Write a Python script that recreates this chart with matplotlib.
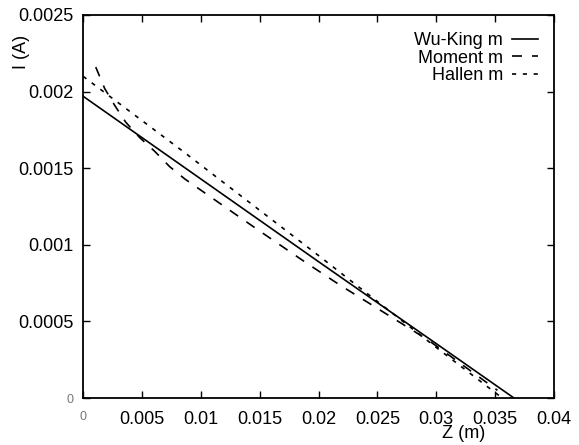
import matplotlib.pyplot as plt

plt.rcParams['font.family'] = ['Liberation Sans', 'DejaVu Sans']

# data
z_wuking = [0.0, 0.01, 0.02, 0.03, 0.0366]
i_wuking = [0.00197, 0.00143, 0.00089, 0.000355, 0.0]

z_moment = [0.00108, 0.00184, 0.00269, 0.00363, 0.00481, 0.00609, 0.00736, 0.00864,
            0.012, 0.015, 0.019, 0.0218, 0.025, 0.0293, 0.0352]
i_moment = [0.00216, 0.00202, 0.00191, 0.0018, 0.0017, 0.00161, 0.00151, 0.00143,
            0.00125, 0.00109, 0.00088, 0.000738, 0.000585, 0.000379, 0.00005]

z_hallen = [0.0, 0.00866, 0.02, 0.03, 0.0356]
i_hallen = [0.0021, 0.0016, 0.00093, 0.00033, 0.0]

xticks = [0, 0.005, 0.01, 0.015, 0.02, 0.025, 0.03, 0.035, 0.04]
xlabels = ['0', '0.005', '0.01', '0.015', '0.02', '0.025', '0.03', '0.035', '0.04']
yticks = [0, 0.0005, 0.001, 0.0015, 0.002, 0.0025]
ylabels = ['0', '0.0005', '0.001', '0.0015', '0.002', '0.0025']

fig = plt.figure(figsize=(5.79, 4.45), dpi=100)
ax = fig.add_axes([0.1434, 0.1056, 0.8134, 0.8607])

ax.plot(z_wuking, i_wuking, color='black', lw=1.2, label='Wu-King m')
ax.plot(z_moment, i_moment, color='black', lw=1.2, dashes=(6, 6), label='Moment m')
ax.plot(z_hallen, i_hallen, color='black', lw=1.2, dashes=(2.5, 4), label='Hallen m')

ax.set_xlim(0, 0.04)
ax.set_ylim(0, 0.0025)
ax.set_xticks(xticks)
ax.set_xticklabels(xlabels, fontsize=13)
ax.set_yticks(yticks)
ax.set_yticklabels(ylabels, fontsize=13)
ax.tick_params(direction='in', top=True, right=True, length=5, width=1)
ax.tick_params(axis='x', pad=9)
ax.tick_params(axis='y', pad=7)
# the zero labels are small and grey
for lab in (ax.get_xticklabels()[0], ax.get_yticklabels()[0]):
    lab.set_fontsize(9)
    lab.set_color('#777777')
for s in ax.spines.values():
    s.set_linewidth(1.3)

ax.text(-0.0052, 0.00226, 'I (A)', rotation=90, fontsize=13, ha='center', va='center')
ax.text(0.0323, -0.00023, 'Z (m)', fontsize=13, ha='center', va='center')

ax.legend(loc='upper right', frameon=False, markerfirst=False, fontsize=13,
          handlelength=1.45, handletextpad=0.5, labelspacing=0.02,
          borderaxespad=0.0, borderpad=0.0, bbox_to_anchor=(0.966, 0.955))

plt.savefig('out.png', dpi=100)
